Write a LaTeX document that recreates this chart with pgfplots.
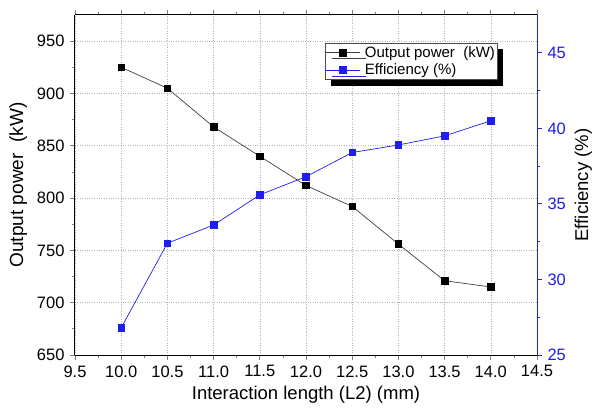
\documentclass[border=0pt]{standalone}
\usepackage{pgfplots}
\pgfplotsset{compat=1.18}
\usepackage{fontspec}
\setmainfont{Liberation Sans}
\usetikzlibrary{shadows}
\definecolor{eblue}{RGB}{30,30,240}
\begin{document}
\fontsize{16}{18}\selectfont
\begin{tikzpicture}
\pgfplotsset{
  every axis/.append style={
    width=462pt, height=340pt, scale only axis,
    xmin=9.5, xmax=14.5,
    /pgf/number format/assume math mode=true,
    tick align=outside,
    major tick length=5pt, minor tick length=3pt,
    tick style={line width=0.8pt},
    axis line style={line width=1pt},
    label style={font=\fontsize{18.5}{20}\selectfont},
    tick label style={font=\fontsize{16.5}{18}\selectfont},
  }
}
\begin{axis}[
  axis x line*=box, axis y line*=left,
  ymin=650, ymax=975,
  xtick={9.5,10,...,14.5},
  xticklabels={9.5,10.0,10.5,11.0,11.5,12.0,12.5,13.0,13.5,14.0,14.5},
  ytick={650,700,...,950},
  minor x tick num=1, minor y tick num=1,
  grid=major,
  major grid style={gray!60, dotted, line width=0.6pt},
  xlabel={Interaction length (L2) (mm)},
  ylabel={Output power\ \ (kW)},
  xlabel style={yshift=2pt},
  ylabel style={yshift=-1pt, font=\fontsize{19}{21}\selectfont},
]
\addplot[black!75, line width=0.7pt, mark=square*, mark size=3.3pt, mark options={fill=black, draw=black}]
coordinates {(10.0,925) (10.5,905) (11.0,868) (11.5,840) (12.0,812) (12.5,792) (13.0,756) (13.5,721) (14.0,715)};
\end{axis}
\begin{axis}[
  axis x line=none, axis y line*=right,
  ymin=25, ymax=47.5,
  ytick={25,30,...,45},
  minor y tick num=1,
  y axis line style={eblue, line width=1pt},
  ytick style={eblue, line width=0.8pt},
  yticklabel style={text=eblue},
  ylabel={Efficiency (\%)},
  ylabel style={yshift=2pt},
  legend style={at={(0.541,0.918)}, anchor=north west, draw=black!70, line width=0.6pt,
    fill=white, drop shadow={shadow xshift=6pt, shadow yshift=-6pt, fill=black, opacity=1},
    font=\fontsize{15}{17}\selectfont, inner xsep=0pt, inner ysep=1pt, row sep=0pt,
    legend cell align=left,
    /tikz/every odd column/.append style={column sep=3pt}},
  legend image code/.code={
    \draw[mark repeat=2, mark phase=2, #1] plot coordinates {(0pt,0pt) (17pt,0pt) (34pt,0pt)};
  },
]
\addlegendimage{black!75, line width=0.7pt, mark=square*, mark size=3.3pt, mark options={fill=black, draw=black}}
\addlegendentry{Output power\ \ (kW)}
\addplot[eblue, line width=0.7pt, mark=square*, mark size=3.3pt, mark options={fill=eblue, draw=eblue}]
coordinates {(10.0,26.8) (10.5,32.4) (11.0,33.6) (11.5,35.6) (12.0,36.8) (12.5,38.4) (13.0,38.9) (13.5,39.5) (14.0,40.5)};
\addlegendentry{Efficiency (\%)}
\end{axis}
\pgfresetboundingbox
\path (current axis.south west) ++(-75pt,-57pt) coordinate (bl);
\path (current axis.north east) ++(57pt,15pt) coordinate (tr);
\path[use as bounding box] (bl) rectangle (tr);
\end{tikzpicture}
\end{document}
